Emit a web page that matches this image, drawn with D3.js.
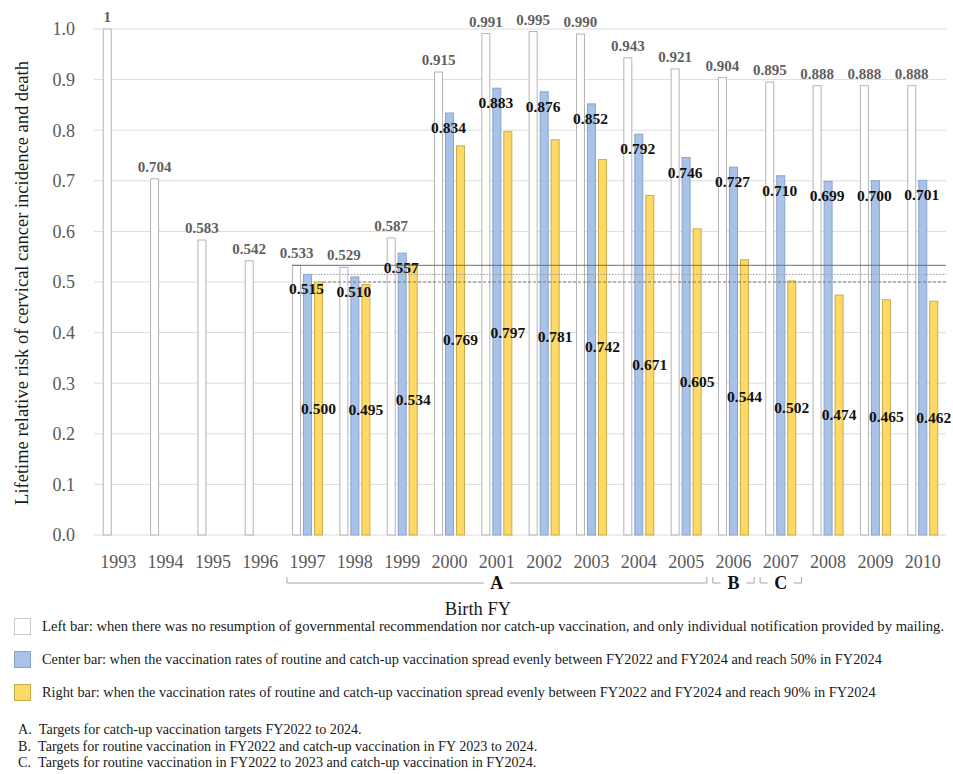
<!DOCTYPE html>
<html><head><meta charset="utf-8">
<script src="https://cdn.jsdelivr.net/npm/d3@7"></script>
<style>
html,body{margin:0;padding:0;background:#fff;}
svg text{font-family:"Liberation Serif","Times New Roman",serif;}
</style></head>
<body>
<svg id="chart" width="953" height="774"></svg>
<script>
const years = ["1993","1994","1995","1996","1997","1998","1999","2000","2001","2002","2003","2004","2005","2006","2007","2008","2009","2010"];
const leftBar = [1, 0.704, 0.583, 0.542, 0.533, 0.529, 0.587, 0.915, 0.991, 0.995, 0.990, 0.943, 0.921, 0.904, 0.895, 0.888, 0.888, 0.888];
const centerBar = [null, null, null, null, 0.515, 0.510, 0.557, 0.834, 0.883, 0.876, 0.852, 0.792, 0.746, 0.727, 0.710, 0.699, 0.700, 0.701];
const rightBar = [null, null, null, null, 0.500, 0.495, 0.534, 0.769, 0.797, 0.781, 0.742, 0.671, 0.605, 0.544, 0.502, 0.474, 0.465, 0.462];
const yTicks = [0, 0.1, 0.2, 0.3, 0.4, 0.5, 0.6, 0.7, 0.8, 0.9, 1.0];
const refLines = [
  {series: "left", year: "1997", value: 0.533},
  {series: "center", year: "1997", value: 0.515},
  {series: "right", year: "1997", value: 0.500}
];
const brackets = [
  {label: "A", from: "1997", to: "2005"},
  {label: "B", from: "2006", to: "2006"},
  {label: "C", from: "2007", to: "2007"}
];
const legendItems = [
  {series: "left", text: "Left bar: when there was no resumption of governmental recommendation nor catch-up vaccination, and only individual notification provided by mailing."},
  {series: "center", text: "Center bar: when the vaccination rates of routine and catch-up vaccination spread evenly between FY2022 and FY2024 and reach 50% in FY2024"},
  {series: "right", text: "Right bar: when the vaccination rates of routine and catch-up vaccination spread evenly between FY2022 and FY2024 and reach 90% in FY2024"}
];
const notes = [
  "A.\u2002Targets for catch-up vaccination targets FY2022 to 2024.",
  "B.\u2002Targets for routine vaccination in FY2022 and catch-up vaccination in FY 2023 to 2024.",
  "C.\u2002Targets for routine vaccination in FY2022 to 2023 and catch-up vaccination in FY2024."
];
const yTitle = "Lifetime relative risk of cervical cancer incidence and death";
const xTitle = "Birth FY";

const seriesKeys = ["left", "center", "right"];
const seriesData = {left: leftBar, center: centerBar, right: rightBar};
const fills = {left: "#ffffff", center: "#a9c3e8", right: "#ffd966"};
const strokes = {left: "#b4b4b4", center: "#8aa3c7", right: "#c9ab4a"};

const svg = d3.select("#chart");
const x = d3.scaleBand().domain(years).range([94.6, 946.4]).padding(0);
const xs = d3.scaleBand().domain(seriesKeys).range([-15.5, 15.5]).paddingInner(2/11).paddingOuter(0);
const y = d3.scaleLinear().domain([0, 1]).range([535, 29]);
const cx = yr => x(yr) + x.bandwidth() / 2;

// gridlines
svg.append("g").selectAll("line").data(yTicks).join("line")
  .attr("x1", 94).attr("x2", 946)
  .attr("y1", d => y(d)).attr("y2", d => y(d))
  .attr("stroke", "#dcdcdc").attr("stroke-width", 1);

// y tick labels
svg.append("g").selectAll("text").data(yTicks).join("text")
  .attr("x", 75).attr("y", d => y(d)).attr("dy", "0.35em")
  .attr("text-anchor", "end").attr("font-size", 18).attr("fill", "#595959")
  .text(d => d3.format(".1f")(d));

// x tick labels
svg.append("g").selectAll("text").data(years).join("text")
  .attr("x", d => cx(d)).attr("y", 568)
  .attr("text-anchor", "middle").attr("font-size", 18).attr("fill", "#595959")
  .text(d => d);

// bars
const barData = [];
years.forEach((yr, i) => seriesKeys.forEach(k => {
  const v = seriesData[k][i];
  if (v != null) barData.push({year: yr, series: k, value: v});
}));
svg.append("g").selectAll("rect").data(barData).join("rect")
  .attr("x", d => cx(d.year) + xs(d.series) + 0.5)
  .attr("width", xs.bandwidth() - 1)
  .attr("y", d => y(d.value))
  .attr("height", d => y(0) - y(d.value))
  .attr("fill", d => fills[d.series])
  .attr("stroke", d => strokes[d.series]).attr("stroke-width", 1);

// reference lines
const dashes = {left: null, center: "1.5,1.5", right: "3,2"};
const refColors = {left: "#6e6e6e", center: "#9a9a9a", right: "#7a7a7a"};
svg.append("g").selectAll("line").data(refLines).join("line")
  .attr("x1", d => cx(d.year) + xs(d.series) + (d.series === "left" ? 0 : xs.bandwidth()))
  .attr("x2", 946)
  .attr("y1", d => y(d.value)).attr("y2", d => y(d.value))
  .attr("stroke", d => refColors[d.series]).attr("stroke-width", 1)
  .attr("stroke-dasharray", d => dashes[d.series]);

// labels
const fmt = v => v === 1 ? "1" : d3.format(".3f")(v);
const lab = svg.append("g");
lab.selectAll("text.l").data(barData.filter(d => d.series === "left")).join("text")
  .attr("class", "l")
  .attr("x", d => cx(d.year) + xs("left") + xs.bandwidth() / 2)
  .attr("y", d => y(d.value) - 7)
  .attr("text-anchor", "middle").attr("font-size", 15).attr("font-weight", "bold").attr("fill", "#5f5f5f")
  .text(d => fmt(d.value));
lab.selectAll("text.c").data(barData.filter(d => d.series === "center")).join("text")
  .attr("class", "c")
  .attr("x", d => cx(d.year) + xs("center") + xs.bandwidth() / 2 - 1)
  .attr("y", d => y(d.value) + 20)
  .attr("text-anchor", "middle").attr("font-size", 15.5).attr("font-weight", "bold").attr("fill", "#111")
  .text(d => fmt(d.value));
lab.selectAll("text.r").data(barData.filter(d => d.series === "right")).join("text")
  .attr("class", "r")
  .attr("x", d => cx(d.year) + xs("right") + xs.bandwidth() / 2)
  .attr("y", d => y(d.value / 2) + 5)
  .attr("text-anchor", "middle").attr("font-size", 15.5).attr("font-weight", "bold").attr("fill", "#111")
  .text(d => fmt(d.value));

// y-axis title
svg.append("text")
  .attr("transform", "translate(28,283) rotate(-90)")
  .attr("text-anchor", "middle").attr("font-size", 18.5).attr("fill", "#1a1a1a")
  .text(yTitle);

// brackets
const bg = svg.append("g");
brackets.forEach(b => {
  const x0 = x(b.from) + 3, x1 = x(b.to) + x.bandwidth() - 3;
  const mid = (x0 + x1) / 2;
  const gap = 13, yl = 583, yt = 577;
  bg.append("path")
    .attr("d", `M${x0},${yt}V${yl}H${mid - gap}M${mid + gap},${yl}H${x1}V${yt}`)
    .attr("fill", "none").attr("stroke", "#a6a6a6").attr("stroke-width", 1);
  bg.append("text").attr("x", mid).attr("y", yl).attr("dy", "0.35em")
    .attr("text-anchor", "middle").attr("font-size", 18).attr("font-weight", "bold").attr("fill", "#111")
    .text(b.label);
});

// x title
svg.append("text").attr("x", 478).attr("y", 615)
  .attr("text-anchor", "middle").attr("font-size", 18.5).attr("fill", "#1a1a1a")
  .text(xTitle);

// fit text horizontally by scaling (keeps glyph heights)
function fitText(sel, x0, yb, xEnd) {
  const w = sel.node().getComputedTextLength();
  const sx = (xEnd - x0) / w;
  sel.attr("x", 0).attr("y", 0).attr("transform", `translate(${x0},${yb}) scale(${sx},1)`);
}

// legend
const legEnds = [945, 883, 877];
const lg = svg.append("g");
legendItems.forEach((it, i) => {
  const yy = 618 + i * 33;
  lg.append("rect").attr("x", 14.5).attr("y", yy + 0.5).attr("width", 16).attr("height", 16)
    .attr("fill", fills[it.series]).attr("stroke", it.series === "left" ? "#c8c8c8" : strokes[it.series]);
  const t = lg.append("text").attr("font-size", 15).attr("fill", "#1a1a1a").text(it.text);
  fitText(t, 42, yy + 13, legEnds[i]);
});

// notes
const noteEnds = [362, 538, 537];
notes.forEach((s, i) => {
  const t = svg.append("text").attr("font-size", 14).attr("fill", "#1a1a1a").text(s);
  fitText(t, 18, 734 + i * 16.5, noteEnds[i]);
});
</script>
</body></html>
